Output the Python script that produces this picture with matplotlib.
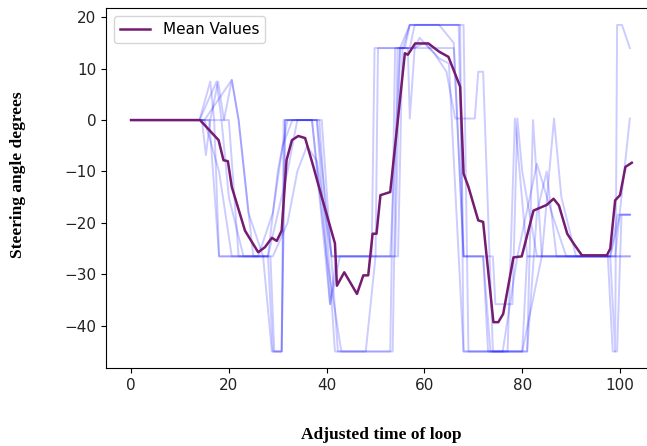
import matplotlib
matplotlib.use("Agg")
import matplotlib.pyplot as plt

# individual loop runs as (time, angle) breakpoints
run_1_t = [0, 14, 16.2, 17, 18, 28, 29, 30.8, 31.5, 38.5, 41.7, 53.5, 54.5, 57, 58, 67.3, 68, 81, 82.2, 84, 98, 99, 99.4, 100.4, 102]
run_1_a = [0, 0, 7.5, 0, -26.5, -26.5, -45, -45, 0, 0, -45, -45, 14, 14, 18.5, 18.5, -45, -45, 0, -26.5, -26.5, -45, 18.5, 18.5, 14]

run_2_t = [0, 14.5, 15.3, 16.2, 17.8, 19, 20, 22, 28.5, 29.3, 30.8, 31.2, 37, 40.7, 42, 49.2, 49.8, 55.6, 57, 67, 68, 74, 74.5, 78, 79, 80, 83, 98, 99.5, 102]
run_2_a = [0, 0, -6.8, 0, 7.5, 0, 0, -26.5, -26.5, -45, -45, 0, 0, -35.8, -26.5, -26.5, 14, 14, 18.5, 18.5, -26.5, -26.5, -35.8, -35.8, 0.3, -10, -26.5, -26.5, -18.4, -18.4]

run_3_t = [0, 15, 20.6, 22, 25, 28, 30, 32, 39, 42.3, 53, 54, 56.6, 57, 58, 59, 62, 64.5, 66.3, 70.3, 71, 72, 74, 80, 81, 97.5, 98.5, 99.4, 100.3, 102]
run_3_a = [0, 0, 7.8, 0, -26.5, -26.5, -10, 0, 0, -45, -45, 14, 14, 0.3, 14, 16, 13, 9.4, 0.3, 0.3, 9.4, 9.4, -45, -45, -26.5, -26.5, -45, -45, -18.4, -18.4]

run_4_t = [0, 15, 18, 20.6, 27, 28.8, 30.8, 31.5, 38, 40.7, 42.7, 50, 50.5, 56, 57, 63, 66, 68, 72, 73.5, 77, 78.5, 81, 98, 99, 102]
run_4_a = [0, 0, -10, -26.5, -26.5, -45, -45, 0, 0, -35.8, -26.5, -26.5, 14, 14, 18.5, 18.5, 15, -26.5, -26.5, -45, -45, 0.3, -26.5, -26.5, -26.5, 0.3]

run_5_t = [0, 14, 17.5, 18.5, 20, 23, 28, 32, 34, 38, 41, 54.6, 55.5, 58, 60, 63, 65, 67, 68, 76, 79, 83, 86, 89, 98, 102]
run_5_a = [0, 0, 7.5, 0, -15, -26.5, -26.5, -10, 0, 0, -26.5, -26.5, 14, 14, 15, 12, 11, -26.5, -45, -45, -26.5, -8.5, -18, -26.5, -26.5, -26.5]

run_6_t = [0, 16, 18, 26, 29, 31, 33, 37, 40, 43, 48, 50, 53, 55, 57, 68, 69, 80, 84, 86.5, 88, 91, 98, 102]
run_6_a = [0, 0, -26.5, -26.5, -18, -5, 0, 0, -26.5, -45, -45, -26.5, -26.5, 14, 18.5, 18.5, -45, -45, -26.5, 0.3, -15, -26.5, -26.5, -26.5]

run_7_t = [0, 19, 20.6, 22, 24, 27, 29, 32, 34, 36, 38, 41, 54, 55, 66, 68, 72, 73, 81, 83, 85, 87, 98, 100, 102]
run_7_a = [0, 0, 7.8, 0, -18, -26.5, -26.5, -20, -10, -5, -8, -26.5, -26.5, 14, 14, -26.5, -26.5, -45, -45, -18, -10, -26.5, -26.5, -18.4, -18.4]

runs = [(run_1_t, run_1_a), (run_2_t, run_2_a), (run_3_t, run_3_a), (run_4_t, run_4_a),
        (run_5_t, run_5_a), (run_6_t, run_6_a), (run_7_t, run_7_a)]

# mean of the runs
mean_t = [0, 14.1, 17.9, 18.9, 19.8, 20.6, 23.3, 26, 27.4, 28.8, 29.8, 30.8, 31.8, 32.9, 34.2, 35.6,
          37.3, 39, 41.7, 42.1, 43.6, 46.2, 47.5, 48.5, 49.4, 50.2, 51, 53, 56, 56.6, 58.1, 60.8, 63,
          64.9, 67.3, 68, 69, 71, 72, 74.1, 75.1, 76.1, 78.2, 79.9, 82.3, 85, 86.4, 87.5, 89.2, 90.5,
          92.2, 97.3, 98, 99, 100, 101.1, 102.4]
mean_a = [0, 0, -3.9, -7.8, -8, -13, -21.5, -25.7, -24.7, -22.9, -23.5, -21.5, -7.8, -3.9, -3.1, -3.5,
          -9.1, -15, -24, -32.2, -29.6, -33.8, -30.2, -30.2, -22.1, -22.1, -14.6, -14, 13, 12.7, 14.9, 14.9, 13.3,
          12.3, 6.5, -10.4, -13, -19.5, -19.8, -39.3, -39.3, -37.7, -26.7, -26.5, -17.6, -16.5, -15.3, -16.6, -22.1, -24,
          -26.3, -26.3, -25, -15.6, -14.6, -9.1, -8.3]

fig = plt.figure(figsize=(6.47, 4.46), dpi=100)
ax = fig.add_axes([0.164, 0.175, 0.848, 0.806])

for t, a in runs:
    ax.plot(t, a, color="blue", alpha=0.2, lw=1.4)
ax.plot(mean_t, mean_a, color="#741c72", lw=1.8, label="Mean Values")

ax.set_xlim(-5.1, 107.1)
ax.set_ylim(-48.2, 21.7)
ax.set_xticks([0, 20, 40, 60, 80, 100])
ax.set_yticks([-40, -30, -20, -10, 0, 10, 20])
ax.tick_params(labelsize=11, labelcolor="#222222")
ax.legend(loc="upper left", fontsize=11)

# axis titles were added in a serif bold face
fig.text(0.590, 0.025, "Adjusted time of loop", family="Liberation Serif",
         weight="bold", fontsize=12.5, ha="center", va="center")
fig.text(0.028, 0.608, "Steering angle degrees", family="Liberation Serif",
         weight="bold", fontsize=12.5, ha="center", va="center", rotation=90)

fig.savefig("out.png", dpi=100)
